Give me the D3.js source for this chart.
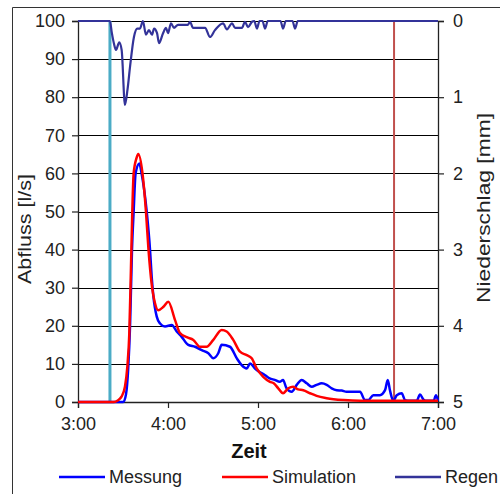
<!DOCTYPE html>
<html>
<head>
<meta charset="utf-8">
<script src="https://cdn.jsdelivr.net/npm/d3@7"></script>
<style>
  body { margin: 0; background: #fff; }
  svg { display: block; font-family: "Liberation Sans", Arial, sans-serif; }
</style>
</head>
<body>
<div id="chart"></div>
<script>
// Zeit in Minuten nach 3:00, Abfluss in l/s
const messung = [
  [0, 0], [30.2, 0], [32, 2], [33.5, 9], [34.7, 20], [36, 40], [37.1, 50], [38.4, 60],
  [40.9, 62.6], [42.4, 60], [45.8, 50], [48, 40], [49.1, 33], [50.2, 28], [52.5, 22.4],
  [54.7, 20.6], [58, 19.8], [62.5, 20.2], [65.8, 18.5], [69.1, 17.1], [73.5, 15],
  [78, 14.5], [82.5, 13.6], [86.9, 12.8], [90.2, 11.5], [93.5, 12.8], [95.8, 15],
  [101.3, 14.5], [105.8, 11.5], [109.1, 9.7], [112.5, 8.8], [114.7, 10.1], [118, 8.8],
  [121.3, 7.8], [124.5, 7.1], [127.8, 6.2], [131.1, 5.8], [134.5, 5.3], [136.7, 5.8],
  [139, 3.6], [142.5, 2.7], [145.8, 4.5], [149.1, 5.8], [152.5, 4.9], [155.8, 4],
  [159.1, 4.5], [162.5, 4.9], [165.8, 4.5], [169.1, 3.6], [172.5, 3.1], [175.8, 3],
  [179.1, 2.7], [183.5, 2.7], [188, 2.7], [191.3, 0.5], [193.5, 0.5], [196.9, 1.8],
  [201.3, 1.8], [204.7, 3.1], [206.5, 5.8], [208, 3], [210.2, 0.3], [212.5, 1.8],
  [215.8, 2.3], [218, 0.5], [221.3, 0.3], [225.8, 0.3], [228, 2], [230.2, 0.7],
  [232.5, 0.3], [237, 0.3], [238.7, 1.8], [240, 0.3]
];

const simulation = [
  [0, 0], [24, 0], [26.5, 0.4], [29, 1.4], [31.3, 4], [32.9, 9.3], [34.2, 18],
  [35.3, 35], [36.2, 50], [37.1, 60], [39, 64], [40.2, 65.1], [43, 60], [45.3, 50],
  [47, 40], [49.1, 31], [51.3, 26], [53.5, 24.1], [57, 25], [60.2, 26.3], [64.7, 21.5],
  [68, 18.1], [72.5, 17], [76.9, 16.3], [81.3, 14.5], [85.8, 14.5], [90.2, 16.3],
  [95.8, 18.9], [99.1, 18.5], [103.5, 16.3], [108, 13.2], [112.5, 12.3], [115.8, 11.5],
  [119.1, 8.8], [123.5, 6.6], [128, 5.3], [130.5, 4.9], [133.5, 3.6], [136.7, 2.3],
  [140.2, 3.6], [143.5, 4], [146.8, 3.3], [150.2, 3.1], [154.7, 2.3], [159.1, 1.6],
  [165.8, 1], [177, 0.5], [188, 0.3], [240, 0.3]
];

// Niederschlag in mm
const regen = [
  [0, 0], [21.3, 0], [22.5, 0.15], [24, 0.3], [25.3, 0.38], [27.5, 0.28], [29.1, 0.38],
  [31.3, 1.1], [33, 0.9], [34.7, 0.6], [37.3, 0.21], [39.5, 0.1], [41.3, 0.1], [43.3, 0],
  [45.3, 0.18], [47.3, 0.12], [49.3, 0.18], [50.7, 0.1], [52.7, 0.16], [54, 0.29],
  [56.7, 0.16], [58.7, 0.09], [60, 0.16], [62, 0.03], [64, 0.09], [66.7, 0.05],
  [73.3, 0.05], [74.7, 0.01], [76.7, 0.09], [84.7, 0.09], [88, 0.21], [91.3, 0.12],
  [96.7, 0.03], [99.3, 0.11], [102.7, 0.03], [104.7, 0.09], [109.3, 0.09], [111.3, 0.01],
  [113.3, 0.08], [116, 0.01], [117.5, 0], [119.3, 0.1], [121, 0], [123, 0],
  [124.7, 0.1], [126.5, 0], [135, 0], [136.7, 0.1], [138.5, 0], [143, 0],
  [144.7, 0.1], [146.5, 0], [240, 0]
];

// Regenbeginn / Ende (Minuten nach 3:00)
const markierungen = [
  { t: 21.3, farbe: "#4bacc6", breite: 3 },
  { t: 210.7, farbe: "#c0504d", breite: 2 }
];

const zeitTicks = [0, 60, 120, 180, 240];
const zeitLabels = ["3:00", "4:00", "5:00", "6:00", "7:00"];
const abflussTicks = [0, 10, 20, 30, 40, 50, 60, 70, 80, 90, 100];
const regenTicks = [0, 1, 2, 3, 4, 5];

const legende = [
  { name: "Messung", farbe: "#0000ff" },
  { name: "Simulation", farbe: "#ff0000" },
  { name: "Regen", farbe: "#333399" }
];

const width = 500;
const height = 494;
const plot = { left: 78, right: 438, top: 21, bottom: 402 };

const svg = d3.select("#chart")
  .append("svg")
  .attr("width", width)
  .attr("height", height);

// Rahmen (links und oben)
svg.append("path")
  .attr("d", `M12.5,${height} V7.5 H${width}`)
  .attr("fill", "none")
  .attr("stroke", "#333")
  .attr("stroke-width", 1);

const x = d3.scaleLinear().domain([0, 240]).range([plot.left, plot.right]);
const y = d3.scaleLinear().domain([0, 100]).range([plot.bottom, plot.top]);
const yRegen = d3.scaleLinear().domain([0, 5]).range([plot.top, plot.bottom]);

// Gitternetz
svg.append("g")
  .selectAll("line")
  .data(abflussTicks)
  .join("line")
  .attr("x1", plot.left)
  .attr("x2", plot.right)
  .attr("y1", d => Math.round(y(d)) + 0.5)
  .attr("y2", d => Math.round(y(d)) + 0.5)
  .attr("stroke", "#000")
  .attr("stroke-width", 1.2);

// Achsen
const fontSize = "18px";

const axLeft = svg.append("g")
  .attr("transform", `translate(${plot.left},0)`)
  .call(d3.axisLeft(y).tickValues(abflussTicks).tickSize(6).tickPadding(7));

const axRight = svg.append("g")
  .attr("transform", `translate(${plot.right},0)`)
  .call(d3.axisRight(yRegen).tickValues(regenTicks)
    .tickFormat(d3.format("d")).tickSize(6).tickPadding(9));

const axBottom = svg.append("g")
  .attr("transform", `translate(0,${plot.bottom})`)
  .call(d3.axisBottom(x).tickValues(zeitTicks)
    .tickFormat((d, i) => zeitLabels[i]).tickSize(6).tickPadding(9));

[axLeft, axRight, axBottom].forEach(ax => {
  ax.select(".domain").attr("stroke", "#222").attr("stroke-width", 1.3);
  ax.selectAll(".tick line").attr("stroke", "#222").attr("stroke-width", 1.2);
  ax.selectAll("text")
    .attr("font-size", fontSize)
    .attr("font-family", "Liberation Sans, Arial, sans-serif")
    .attr("fill", "#222");
});

// Markierungen
svg.append("g")
  .selectAll("line")
  .data(markierungen)
  .join("line")
  .attr("x1", d => x(d.t))
  .attr("x2", d => x(d.t))
  .attr("y1", plot.top)
  .attr("y2", plot.bottom)
  .attr("stroke", d => d.farbe)
  .attr("stroke-width", d => d.breite);

// Linien
const lineAbfluss = d3.line()
  .x(d => x(d[0]))
  .y(d => y(d[1]))
  .curve(d3.curveMonotoneX);

const lineRegen = d3.line()
  .x(d => x(d[0]))
  .y(d => yRegen(d[1]))
  .curve(d3.curveMonotoneX);

svg.append("path")
  .datum(regen)
  .attr("d", lineRegen)
  .attr("fill", "none")
  .attr("stroke", "#333399")
  .attr("stroke-width", 2.2);

svg.append("path")
  .datum(messung)
  .attr("d", lineAbfluss)
  .attr("fill", "none")
  .attr("stroke", "#0000ff")
  .attr("stroke-width", 2.5);

svg.append("path")
  .datum(simulation)
  .attr("d", lineAbfluss)
  .attr("fill", "none")
  .attr("stroke", "#ff0000")
  .attr("stroke-width", 2.5);

// Achsentitel
svg.append("text")
  .attr("transform", `translate(31,229) rotate(-90)`)
  .attr("text-anchor", "middle")
  .attr("font-size", "18px")
  .attr("fill", "#222")
  .attr("textLength", 110)
  .attr("lengthAdjust", "spacingAndGlyphs")
  .text("Abfluss [l/s]");

svg.append("text")
  .attr("transform", `translate(490,208) rotate(-90)`)
  .attr("text-anchor", "middle")
  .attr("font-size", "18px")
  .attr("fill", "#222")
  .attr("textLength", 190)
  .attr("lengthAdjust", "spacingAndGlyphs")
  .text("Niederschlag [mm]");

svg.append("text")
  .attr("x", 249)
  .attr("y", 458)
  .attr("text-anchor", "middle")
  .attr("font-size", "20px")
  .attr("font-weight", "bold")
  .attr("fill", "#111")
  .text("Zeit");

// Legende
const legX = [59, 222, 395];
const leg = svg.append("g")
  .selectAll("g")
  .data(legende)
  .join("g")
  .attr("transform", (d, i) => `translate(${legX[i]},477)`);

leg.append("line")
  .attr("x1", 0)
  .attr("x2", 46)
  .attr("stroke", d => d.farbe)
  .attr("stroke-width", 2.5);

leg.append("text")
  .attr("x", 50)
  .attr("dy", "0.35em")
  .attr("font-size", "18px")
  .attr("fill", "#222")
  .text(d => d.name);
</script>
</body>
</html>
